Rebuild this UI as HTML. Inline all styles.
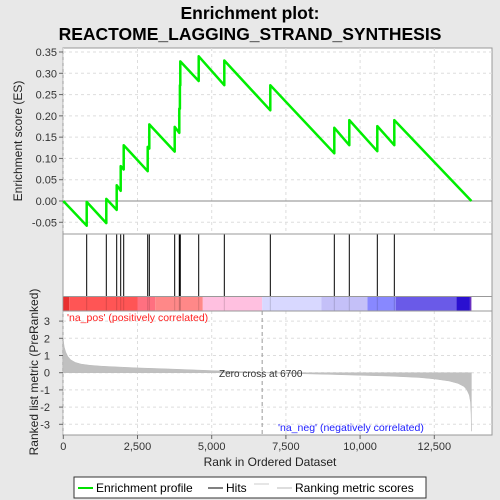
<!DOCTYPE html>
<html><head><meta charset="utf-8"><style>
html,body{margin:0;padding:0;background:#e8e8e8;}
svg{display:block;font-family:"Liberation Sans",sans-serif;}
</style></head><body>
<svg id="chart" width="500" height="500" viewBox="0 0 500 500">
<rect x="0" y="0" width="500" height="500" fill="#e8e8e8"/>
<text x="250" y="19" text-anchor="middle" font-size="17.5" font-weight="bold">Enrichment plot:</text>
<text x="250" y="40" text-anchor="middle" font-size="17.5" font-weight="bold">REACTOME_LAGGING_STRAND_SYNTHESIS</text>
<rect x="63" y="48" width="429" height="387" fill="#fff" stroke="#999"/>
<g id="grid"></g>
<g id="es"></g>
<g id="hits"></g>
<g id="cbar"></g>
<g id="metric"></g>
<line x1="63" y1="234" x2="492" y2="234" stroke="#999"/>
<line x1="63" y1="296.5" x2="492" y2="296.5" stroke="#999"/>
<line x1="63" y1="311" x2="492" y2="311" stroke="#999"/>
<text x="67" y="321" font-size="10.5" fill="#ff2020">'na_pos' (positively correlated)</text>
<text x="278" y="431" font-size="10.5" fill="#2020ff">'na_neg' (negatively correlated)</text>
<text x="219" y="377" font-size="10" fill="#333">Zero cross at 6700</text>
<text x="270" y="466" text-anchor="middle" font-size="12" fill="#222">Rank in Ordered Dataset</text>
<text transform="translate(22,141) rotate(-90)" text-anchor="middle" font-size="12" fill="#222">Enrichment score (ES)</text>
<text transform="translate(38,372) rotate(-90)" text-anchor="middle" font-size="12" fill="#222">Ranked list metric (PreRanked)</text>
<g>
<rect x="74" y="477" width="352" height="21" fill="#fff" stroke="#333"/>
<line x1="78" y1="488" x2="93" y2="488" stroke="#00e000" stroke-width="2"/>
<text x="96" y="492" font-size="12">Enrichment profile</text>
<line x1="208" y1="488" x2="223" y2="488" stroke="#000"/>
<text x="226" y="492" font-size="12">Hits</text>
<line x1="254" y1="484" x2="269" y2="484" stroke="#ccc"/>
<line x1="277" y1="488" x2="292" y2="488" stroke="#bbb"/>
<text x="295" y="492" font-size="12">Ranking metric scores</text>
</g>
</svg>
<script>
const hitRanks=[788,1449,1799,1934,2035,2844,2898,3753,3908,3930,3942,4562,5425,6975,9131,9636,10580,11153];
const esTrough=[-0.058,-0.052,-0.021,0.024,0.074,0.070,0.123,0.116,0.160,0.217,0.272,0.282,0.272,0.213,0.112,0.131,0.117,0.131];
const esPeak=[-0.002,0.005,0.037,0.082,0.131,0.127,0.180,0.174,0.217,0.272,0.328,0.340,0.330,0.272,0.172,0.190,0.176,0.190];
const esTicks=[-0.05,0,0.05,0.10,0.15,0.20,0.25,0.30,0.35];
const esTickLabels=["-0.05","0.00","0.05","0.10","0.15","0.20","0.25","0.30","0.35"];
const xTicks=[0,2500,5000,7500,10000,12500];
const xTickLabels=["0","2,500","5,000","7,500","10,000","12,500"];
const mTicks=[3,2,1,0,-1,-2,-3];
const metricRanks=[0,30,80,150,250,400,600,900,1300,2000,2500,3500,5000,6000,6700,8000,9000,10000,11000,12000,12500,13000,13300,13500,13600,13680,13720,13740,13750];
const metricVals=[1.9,1.5,1.2,0.95,0.75,0.6,0.5,0.43,0.38,0.32,0.28,0.22,0.12,0.06,0,-0.06,-0.1,-0.15,-0.2,-0.28,-0.36,-0.48,-0.62,-0.8,-1.0,-1.3,-1.7,-2.4,-3.4];
const cbarStops=[0,200,2500,3100,4700,6700,8700,10250,11200,13250,13700,13750];
const cbarColors=["#e83030","#ff5555","#ff7080","#ff8888","#ffc0e0","#d8d8ff","#c4c0f8","#8888ff","#6a5ae8","#2a10d0","#6a30c0"];
const maxRank=13750;
const NS="http://www.w3.org/2000/svg";
const xs=r=>63.3+r*0.02968;
const ye=v=>201-v*425.7;
const ym=v=>372.7-v*17.2;
function mk(tag,attrs,parent,txt){const e=document.createElementNS(NS,tag);for(const k in attrs)e.setAttribute(k,attrs[k]);if(txt!==undefined)e.textContent=txt;document.getElementById(parent).appendChild(e);return e;}
xTicks.forEach((t,i)=>{
  const g1=mk('line',{x1:xs(t),x2:xs(t),y1:48,y2:234,stroke:'#ddd','stroke-dasharray':'3,3'},'grid');
  
  
  const g2=mk('line',{x1:xs(t),x2:xs(t),y1:311,y2:435,stroke:'#ddd','stroke-dasharray':'3,3'},'grid');
  
  
  const tk=mk('line',{x1:xs(t),x2:xs(t),y1:435,y2:439,stroke:'#666'},'grid');
  
  
  const lb=mk('text',{x:xs(t),y:450,'text-anchor':'middle','font-size':'11',fill:'#333'},'grid',xTickLabels[i]);
  
  
});
esTicks.forEach((t,i)=>{
  if(t!==0){const g=mk('line',{x1:63,x2:492,y1:ye(t),y2:ye(t),stroke:'#ddd','stroke-dasharray':'3,3'},'grid');
  
  }
  const tk=mk('line',{x1:59,x2:63,y1:ye(t),y2:ye(t),stroke:'#666'},'grid');
  
  
  const lb=mk('text',{x:57,y:ye(t)+4,'text-anchor':'end','font-size':'11',fill:'#333'},'grid',esTickLabels[i]);
  
  
});
mTicks.forEach(t=>{
  const g=mk('line',{x1:63,x2:492,y1:ym(t),y2:ym(t),stroke:'#ddd','stroke-dasharray':'3,3'},'grid');
  
  
  const tk=mk('line',{x1:59,x2:63,y1:ym(t),y2:ym(t),stroke:'#666'},'grid');
  
  
  const lb=mk('text',{x:50,y:ym(t)+4,'text-anchor':'end','font-size':'11',fill:'#333'},'grid',String(t));
  
  
});
const zl=mk('line',{x1:63,x2:492,y1:ye(0),y2:ye(0),stroke:'#888'},'es');


let pts=[[0,0]];
hitRanks.forEach((r,i)=>{pts.push([r,esTrough[i]]);pts.push([r,esPeak[i]]);});
pts.push([maxRank,0]);
const pl=mk('polyline',{points:pts.map(p=>xs(p[0]).toFixed(1)+','+ye(p[1]).toFixed(1)).join(' '),fill:'none',stroke:'#00ee00','stroke-width':'2.5','stroke-linejoin':'round'},'es');


hitRanks.forEach(r=>{
  const h=mk('line',{x1:xs(r),x2:xs(r),y1:234,y2:296,stroke:'#000','stroke-width':'1'},'hits');
  
  
});
cbarColors.forEach((c,i)=>{
  const r=mk('rect',{x:xs(cbarStops[i]),y:296.5,width:xs(cbarStops[i+1])-xs(cbarStops[i]),height:14.5,fill:c},'cbar');
  
  
});
hitRanks.forEach(r=>{
  const h=mk('line',{x1:xs(r),x2:xs(r),y1:296.5,y2:311,stroke:'rgba(0,0,0,0.15)'},'cbar');
  
  
});
let d='M'+xs(0)+','+ym(0);
metricRanks.forEach((r,i)=>{d+=' L'+xs(r).toFixed(1)+','+ym(metricVals[i]).toFixed(1);});
d+=' L'+xs(maxRank).toFixed(1)+','+ym(0)+' Z';
const ar=mk('path',{d:d,fill:'#c0c0c0',stroke:'#bbb','stroke-width':'0.5'},'metric');


const zc=mk('line',{x1:xs(6700),x2:xs(6700),y1:311,y2:435,stroke:'#999','stroke-dasharray':'4,3'},'metric');


</script>
</body></html>
